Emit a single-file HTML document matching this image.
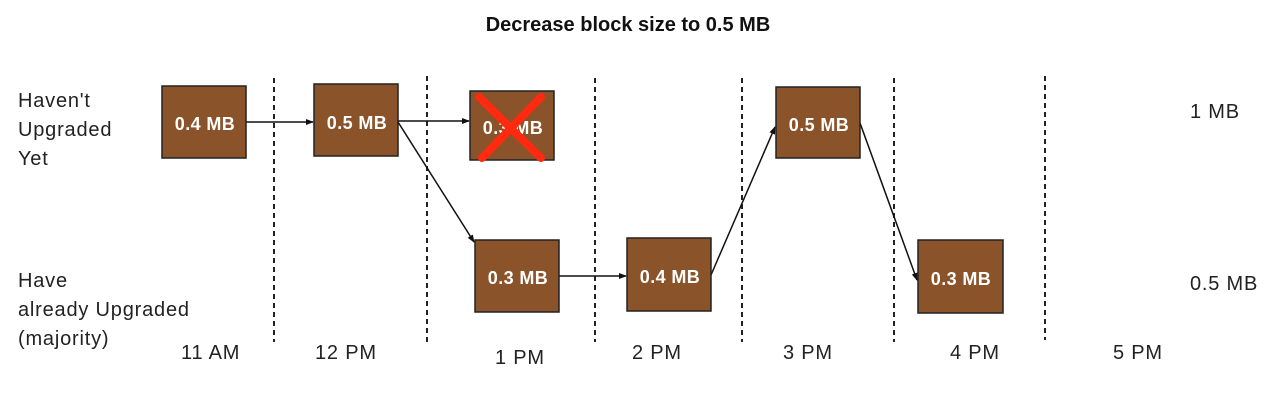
<!DOCTYPE html>
<html><head><meta charset="utf-8"><style>
html,body{margin:0;padding:0;background:#fff;width:1264px;height:407px;overflow:hidden}
svg{display:block}
text{font-family:"Liberation Sans",sans-serif}
</style></head><body>
<svg width="1264" height="407" viewBox="0 0 1264 407" xmlns="http://www.w3.org/2000/svg">
<defs>
<marker id="a" markerWidth="8" markerHeight="8" refX="7" refY="4" orient="auto" markerUnits="userSpaceOnUse">
<path d="M0,1 L8,4 L0,7 z" fill="#111"/></marker>
</defs>
<text x="628" y="31" text-anchor="middle" font-size="20" font-weight="bold" fill="#111">Decrease block size to 0.5 MB</text>
<g stroke="#222" stroke-width="2" stroke-dasharray="5,4">
<line x1="274" y1="78" x2="274" y2="342"/>
<line x1="427" y1="76" x2="427" y2="342"/>
<line x1="595" y1="78" x2="595" y2="342"/>
<line x1="742" y1="78" x2="742" y2="342"/>
<line x1="894" y1="78" x2="894" y2="342"/>
<line x1="1045" y1="76" x2="1045" y2="340"/>
</g>
<g font-size="20" fill="#222" letter-spacing="0.8">
<text x="18" y="107">Haven't</text>
<text x="18" y="136">Upgraded</text>
<text x="18" y="165">Yet</text>
<text x="18" y="287">Have</text>
<text x="18" y="316">already Upgraded</text>
<text x="18" y="345">(majority)</text>
<text x="1190" y="118">1 MB</text>
<text x="1190" y="290">0.5 MB</text>
<text x="181" y="359">11 AM</text>
<text x="315" y="359">12 PM</text>
<text x="495" y="364">1 PM</text>
<text x="632" y="359">2 PM</text>
<text x="783" y="359">3 PM</text>
<text x="950" y="359">4 PM</text>
<text x="1113" y="359">5 PM</text>
</g>
<g stroke="#111" stroke-width="1.5" fill="none" marker-end="url(#a)">
<line x1="246" y1="122" x2="313" y2="122"/>
<line x1="398" y1="121" x2="469" y2="121"/>
<line x1="398" y1="122" x2="474" y2="242"/>
<line x1="559" y1="276" x2="626" y2="276"/>
<line x1="711" y1="275" x2="775" y2="127"/>
<line x1="860" y1="123" x2="917" y2="280"/>
</g>
<g fill="#8b5329" stroke="#222" stroke-width="1.5">
<rect x="162" y="86" width="84" height="72"/>
<rect x="314" y="84" width="84" height="72"/>
<rect x="470" y="91" width="84" height="69"/>
<rect x="475" y="240" width="84" height="72"/>
<rect x="627" y="238" width="84" height="73"/>
<rect x="776" y="87" width="84" height="71"/>
<rect x="918" y="240" width="85" height="73"/>
</g>
<g font-size="18" font-weight="bold" fill="#fff" text-anchor="middle" letter-spacing="0.4">
<text x="205" y="130">0.4 MB</text>
<text x="357" y="129">0.5 MB</text>
<text x="513" y="134">0.3 MB</text>
<text x="518" y="284">0.3 MB</text>
<text x="670" y="283">0.4 MB</text>
<text x="819" y="131">0.5 MB</text>
<text x="961" y="285">0.3 MB</text>
</g>
<g stroke="#ff2a10" stroke-width="8" stroke-linecap="round">
<line x1="479" y1="97" x2="541" y2="158"/>
<line x1="541" y1="97" x2="482" y2="158"/>
</g>
</svg>
</body></html>
